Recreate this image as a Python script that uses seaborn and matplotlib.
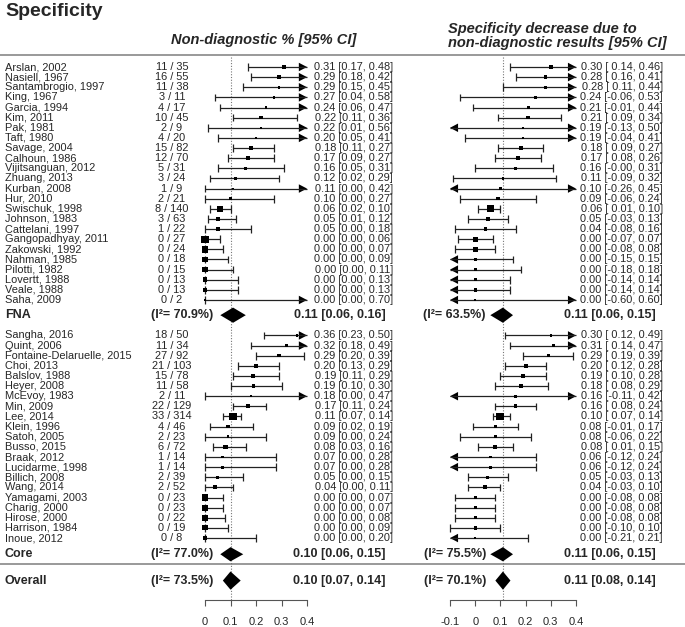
import numpy as np
import pandas as pd
import matplotlib
matplotlib.use('Agg')
import matplotlib.pyplot as plt
import seaborn as sns

# ---- data: FNA studies ----
fna_study = ['Arslan, 2002', 'Nasiell, 1967', 'Santambrogio, 1997', 'King, 1967', 'Garcia, 1994',
             'Kim, 2011', 'Pak, 1981', 'Taft, 1980', 'Savage, 2004', 'Calhoun, 1986',
             'Vijitsanguan, 2012', 'Zhuang, 2013', 'Kurban, 2008', 'Hur, 2010', 'Swischuk, 1998',
             'Johnson, 1983', 'Cattelani, 1997', 'Gangopadhyay, 2011', 'Zakowski, 1992',
             'Nahman, 1985', 'Pilotti, 1982', 'Lovertt, 1988', 'Veale, 1988', 'Saha, 2009']
fna_count = ['11 / 35', '16 / 55', '11 / 38', '3 / 11', '4 / 17', '10 / 45', '2 / 9', '4 / 20',
             '15 / 82', '12 / 70', '5 / 31', '3 / 24', '1 / 9', '2 / 21', '8 / 140', '3 / 63',
             '1 / 22', '0 / 27', '0 / 24', '0 / 18', '0 / 15', '0 / 13', '0 / 13', '0 / 2']
fna_nd_est = [0.31, 0.29, 0.29, 0.27, 0.24, 0.22, 0.22, 0.20, 0.18, 0.17, 0.16, 0.12, 0.11, 0.10,
              0.06, 0.05, 0.05, 0.00, 0.00, 0.00, 0.00, 0.00, 0.00, 0.00]
fna_nd_lo = [0.17, 0.18, 0.15, 0.04, 0.06, 0.11, 0.01, 0.05, 0.11, 0.09, 0.05, 0.02, 0.00, 0.00,
             0.02, 0.01, 0.00, 0.00, 0.00, 0.00, 0.00, 0.00, 0.00, 0.00]
fna_nd_hi = [0.48, 0.42, 0.45, 0.58, 0.47, 0.36, 0.56, 0.41, 0.27, 0.27, 0.31, 0.29, 0.42, 0.27,
             0.10, 0.12, 0.18, 0.06, 0.07, 0.09, 0.11, 0.13, 0.13, 0.70]
fna_sd_est = [0.30, 0.28, 0.28, 0.24, 0.21, 0.21, 0.19, 0.19, 0.18, 0.17, 0.16, 0.11, 0.10, 0.09,
              0.06, 0.05, 0.04, 0.00, 0.00, 0.00, 0.00, 0.00, 0.00, 0.00]
fna_sd_lo = [0.14, 0.16, 0.11, -0.06, -0.01, 0.09, -0.13, -0.04, 0.09, 0.08, -0.0, -0.09, -0.26,
             -0.06, 0.01, -0.03, -0.08, -0.07, -0.08, -0.15, -0.18, -0.14, -0.14, -0.60]
fna_sd_hi = [0.46, 0.41, 0.44, 0.53, 0.44, 0.34, 0.50, 0.41, 0.27, 0.26, 0.31, 0.32, 0.45, 0.24,
             0.10, 0.13, 0.16, 0.07, 0.08, 0.15, 0.18, 0.14, 0.14, 0.60]
# marker sizes (px side)
fna_nd_w = [3, 3, 2.5, 2, 2, 3, 2, 2, 3.5, 3.5, 2.5, 2, 1.5, 2.5, 5.5, 4, 3.5, 6.5, 6, 4.5, 4.5, 4, 4, 1.5]
fna_sd_w = [3.5, 3, 3, 2.5, 2.5, 3, 2, 2, 3.5, 4, 3, 2, 2, 3, 6, 3.5, 3, 4.5, 4.5, 3, 3, 3, 3, 2]

# ---- data: Core studies ----
core_study = ['Sangha, 2016', 'Quint, 2006', 'Fontaine-Delaruelle, 2015', 'Choi, 2013',
              'Balslov, 1988', 'Heyer, 2008', 'McEvoy, 1983', 'Min, 2009', 'Lee, 2014',
              'Klein, 1996', 'Satoh, 2005', 'Busso, 2015', 'Braak, 2012', 'Lucidarme, 1998',
              'Billich, 2008', 'Wang, 2014', 'Yamagami, 2003', 'Charig, 2000', 'Hirose, 2000',
              'Harrison, 1984', 'Inoue, 2012']
core_count = ['18 / 50', '11 / 34', '27 / 92', '21 / 103', '15 / 78', '11 / 58', '2 / 11',
              '22 / 129', '33 / 314', '4 / 46', '2 / 23', '6 / 72', '1 / 14', '1 / 14', '2 / 39',
              '2 / 52', '0 / 23', '0 / 23', '0 / 22', '0 / 19', '0 / 8']
core_nd_est = [0.36, 0.32, 0.29, 0.20, 0.19, 0.19, 0.18, 0.17, 0.11, 0.09, 0.09, 0.08, 0.07, 0.07,
               0.05, 0.04, 0.00, 0.00, 0.00, 0.00, 0.00]
core_nd_lo = [0.23, 0.18, 0.20, 0.13, 0.11, 0.10, 0.00, 0.11, 0.07, 0.02, 0.00, 0.03, 0.00, 0.00,
              0.00, 0.00, 0.00, 0.00, 0.00, 0.00, 0.00]
core_nd_hi = [0.50, 0.49, 0.39, 0.29, 0.29, 0.30, 0.47, 0.24, 0.14, 0.19, 0.24, 0.16, 0.28, 0.28,
              0.15, 0.11, 0.07, 0.07, 0.08, 0.09, 0.20]
core_sd_est = [0.30, 0.31, 0.29, 0.20, 0.19, 0.18, 0.16, 0.16, 0.10, 0.08, 0.08, 0.08, 0.06, 0.06,
               0.05, 0.04, 0.00, 0.00, 0.00, 0.00, 0.00]
core_sd_lo = [0.12, 0.14, 0.19, 0.12, 0.10, 0.08, -0.11, 0.08, 0.07, -0.01, -0.06, 0.01, -0.12,
              -0.12, -0.03, -0.03, -0.08, -0.08, -0.08, -0.10, -0.21]
core_sd_hi = [0.49, 0.47, 0.39, 0.28, 0.28, 0.29, 0.42, 0.24, 0.14, 0.17, 0.22, 0.15, 0.24, 0.24,
              0.13, 0.10, 0.08, 0.08, 0.08, 0.10, 0.21]
core_nd_w = [2, 2, 3, 3.5, 3.5, 3, 2, 3.5, 6.5, 3, 2.5, 4, 2.5, 2.5, 3, 3.5, 5.5, 5.5, 5.5, 4.5, 3]
core_sd_w = [2, 2.5, 3, 3.5, 3.5, 3.5, 2.5, 3.5, 7, 3, 2.5, 3.5, 2.5, 2.5, 3, 3.5, 3, 3, 3, 3, 2]

# ---- summaries: FNA, Core, Overall ----
sum_label = ['FNA', 'Core', 'Overall']
sum_nd_i2 = ['70.9', '77.0', '73.5']
sum_nd = [(0.11, 0.06, 0.16), (0.10, 0.06, 0.15), (0.10, 0.07, 0.14)]
sum_sd_i2 = ['63.5', '75.5', '70.1']
sum_sd = [(0.11, 0.06, 0.15), (0.11, 0.06, 0.15), (0.11, 0.08, 0.14)]

left_ticks = [0, 0.1, 0.2, 0.3, 0.4]
right_ticks = [-0.1, 0, 0.1, 0.2, 0.3, 0.4]

# ---- layout (rows) ----
fna_rows = np.arange(len(fna_study), dtype=float)
core_rows = 26.5 + np.arange(len(core_study), dtype=float)
sum_rows = [24.5, 48.1, 50.7]
sum_h = [0.75, 0.7, 0.9]
axis_row = 52.6
head_row = -1.18
sep_row = 49.06
ytop, ybot = -67 / 10.13, (627 - 67) / 10.13

sns.set_style('white')
plt.rcParams['font.family'] = ['Liberation Sans', 'DejaVu Sans']

W, H = 685, 627
fig = plt.figure(figsize=(W / 100, H / 100), dpi=100)
base = fig.add_axes([0, 0, 1, 1])
base.set_xlim(0, W)
base.set_ylim(ybot, ytop)
base.axis('off')

LINE = '#222222'
FS = 7.9


def draw_panel(ax, xmin, xmax, rows, est, lo, hi, w):
    rows = np.asarray(rows)
    lo = np.asarray(lo, float)
    hi = np.asarray(hi, float)
    lo_out = lo < xmin - 1e-9
    hi_out = hi > xmax + 1e-9
    lo_c = np.clip(lo, xmin, xmax)
    hi_c = np.clip(hi, xmin, xmax)
    ax.hlines(rows, lo_c, hi_c, color=LINE, lw=0.9, clip_on=False)
    ax.vlines(lo_c[~lo_out], rows[~lo_out] - 0.38, rows[~lo_out] + 0.38, color=LINE, lw=0.9,
              clip_on=False)
    ax.vlines(hi_c[~hi_out], rows[~hi_out] - 0.38, rows[~hi_out] + 0.38, color=LINE, lw=0.9,
              clip_on=False)
    L = 0.032
    for r in rows[hi_out]:
        ax.fill([xmax - L, xmax, xmax - L], [r - 0.42, r, r + 0.42], color='black', lw=0,
                clip_on=False)
    for r in rows[lo_out]:
        ax.fill([xmin + L, xmin, xmin + L], [r - 0.42, r, r + 0.42], color='black', lw=0,
                clip_on=False)
    df = pd.DataFrame({'est': est, 'row': rows, 'area': (np.asarray(w) * 1.12 * 0.72) ** 2})
    a0, a1 = df['area'].min(), df['area'].max()
    sns.scatterplot(data=df, x='est', y='row', size='area', sizes=(a0, a1), size_norm=(a0, a1),
                    marker='s', color='black', edgecolor='none', linewidth=0, legend=False,
                    clip_on=False, zorder=3, ax=ax)


def make_panel(left_px, width_px, xmin, xmax, ticks, nd_f, nd_c, sums, overall):
    ax = fig.add_axes([left_px / W, 0, width_px / W, 1])
    ax.patch.set_alpha(0)
    draw_panel(ax, xmin, xmax, fna_rows, *nd_f)
    draw_panel(ax, xmin, xmax, core_rows, *nd_c)
    for (e, l, h), r, hh in zip(sums, sum_rows, sum_h):
        ax.fill([l, e, h, e], [r, r - hh, r, r + hh], color='black', lw=0, clip_on=False)
    ax.vlines(overall, head_row + 0.2, axis_row, color='#777777', lw=0.8,
              linestyles=(0, (1, 1.5)), zorder=0)
    ax.set_xlim(xmin, xmax)
    ax.set_ylim(ybot, ytop)
    for s in ['top', 'left', 'right']:
        ax.spines[s].set_visible(False)
    ax.spines['bottom'].set_position(('data', axis_row))
    ax.spines['bottom'].set_bounds(xmin, xmax)
    ax.spines['bottom'].set_color('#555555')
    ax.spines['bottom'].set_linewidth(0.8)
    ax.set_xticks(ticks)
    ax.set_xticklabels([f'{t:g}' for t in ticks])
    ax.tick_params(axis='x', direction='out', length=4.5, width=0.8, color='#555555',
                   labelsize=8, pad=8, bottom=True)
    ax.set_yticks([])
    ax.set_xlabel('')
    ax.set_ylabel('')
    return ax


make_panel(205, 102, 0, 0.4, left_ticks,
           (fna_nd_est, fna_nd_lo, fna_nd_hi, fna_nd_w),
           (core_nd_est, core_nd_lo, core_nd_hi, core_nd_w), sum_nd, sum_nd[2][0])
make_panel(450, 126, -0.1, 0.4, right_ticks,
           (fna_sd_est, fna_sd_lo, fna_sd_hi, fna_sd_w),
           (core_sd_est, core_sd_lo, core_sd_hi, core_sd_w), sum_sd, sum_sd[2][0])

# ---- text columns ----
def row_text(rows, study, count, nd_e, nd_l, nd_h, sd_e, sd_l, sd_h):
    for i, r in enumerate(rows):
        base.text(5, r, study[i], fontsize=FS, va='center', ha='left')
        base.text(172, r, count[i], fontsize=FS, va='center', ha='center')
        base.text(393, r, f'{nd_e[i]:.2f} [{nd_l[i]:.2f}, {nd_h[i]:.2f}]',
                  fontsize=FS, va='center', ha='right')
        base.text(663, r, f'{sd_e[i]:.2f} [{sd_l[i]:5.2f}, {sd_h[i]:.2f}]',
                  fontsize=FS, va='center', ha='right')


row_text(fna_rows, fna_study, fna_count, fna_nd_est, fna_nd_lo, fna_nd_hi,
         fna_sd_est, fna_sd_lo, fna_sd_hi)
row_text(core_rows, core_study, core_count, core_nd_est, core_nd_lo, core_nd_hi,
         core_sd_est, core_sd_lo, core_sd_hi)

for i, r in enumerate(sum_rows):
    base.text(5, r, sum_label[i], fontsize=9, fontweight='bold', va='center')
    base.text(213, r, f'(I\u00b2= {sum_nd_i2[i]}%)', fontsize=9, fontweight='bold',
              va='center', ha='right')
    e, l, h = sum_nd[i]
    base.text(386, r, f'{e:.2f} [{l:.2f}, {h:.2f}]', fontsize=9, fontweight='bold',
              va='center', ha='right')
    base.text(486, r, f'(I\u00b2= {sum_sd_i2[i]}%)', fontsize=9, fontweight='bold',
              va='center', ha='right')
    e, l, h = sum_sd[i]
    base.text(656, r, f'{e:.2f} [{l:.2f}, {h:.2f}]', fontsize=9, fontweight='bold',
              va='center', ha='right')

# headers and rules
base.text(5, -5.03, 'Specificity', fontsize=14, fontweight='bold', va='baseline')
base.text(264, -2.67, 'Non-diagnostic % [95% CI]', fontsize=10.5, fontweight='bold',
          fontstyle='italic', ha='center', va='center')
base.text(448, -3.75, 'Specificity decrease due to', fontsize=10.5, fontweight='bold',
          fontstyle='italic', ha='left', va='center')
base.text(448, -2.37, 'non-diagnostic results [95% CI]', fontsize=10.5, fontweight='bold',
          fontstyle='italic', ha='left', va='center')
base.hlines([head_row, sep_row], 0, W, color='#888888', lw=1.2)

fig.savefig('out.png', dpi=100)
